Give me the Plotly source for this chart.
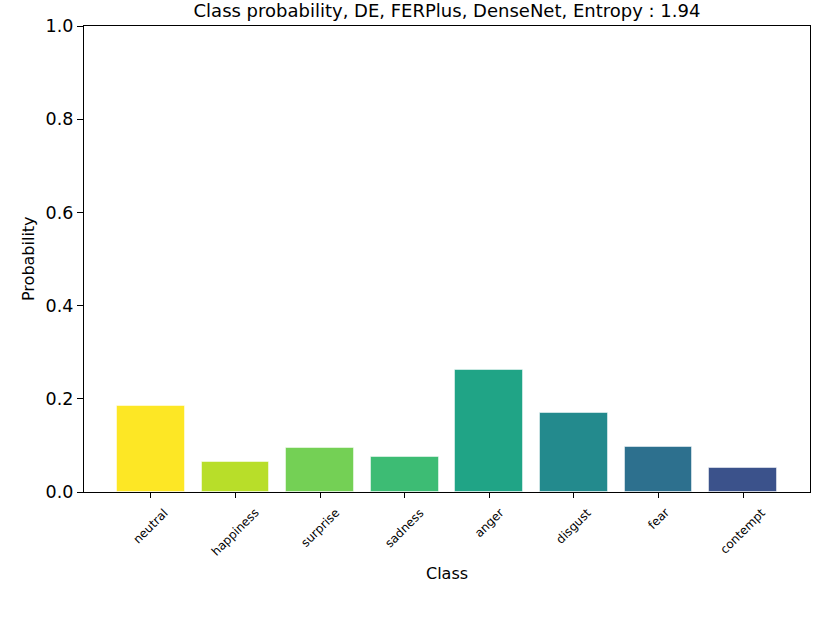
import plotly.graph_objects as go

categories = ["neutral", "happiness", "surprise", "sadness", "anger", "disgust", "fear", "contempt"]
probabilities = [0.1845, 0.065, 0.0937, 0.0744, 0.2618, 0.1695, 0.0966, 0.0515]
bar_colors = ["#fde725", "#b8de29", "#74d055", "#3dbc74", "#20a486", "#238a8d", "#2d708e", "#3b528b"]
y_ticks = [0.0, 0.2, 0.4, 0.6, 0.8, 1.0]
title_text = "Class probability, DE, FERPlus, DenseNet, Entropy : 1.94"

xpos = list(range(len(categories)))

fig = go.Figure()
fig.add_trace(go.Bar(
    x=xpos, y=probabilities, width=0.8,
    marker=dict(color=bar_colors, line=dict(color="rgba(255,255,255,0.5)", width=1)),
    showlegend=False,
))

font = "DejaVu Sans, Arial, sans-serif"
fig.update_layout(
    width=830, height=623,
    margin=dict(l=84, r=20, t=26, b=131, autoexpand=False),
    paper_bgcolor="white", plot_bgcolor="white",
    font=dict(family=font, color="black"),
    title=dict(text=title_text, x=0.5, xref="paper", xanchor="center",
               y=1, yref="paper", yanchor="bottom", pad=dict(b=9), automargin=False,
               font=dict(size=18, family=font, color="black")),
    bargap=0,
)
fig.update_xaxes(
    range=[-0.79, 7.79], tickmode="array", tickvals=xpos, showticklabels=False,
    ticks="outside", ticklen=5,
    tickcolor="black", showline=True, linecolor="black", linewidth=1.2, mirror=True,
    showgrid=False, zeroline=False, automargin=False,
)
fig.update_yaxes(
    range=[0, 1.0], tickmode="array", tickvals=y_ticks,
    ticktext=[f"{v:.1f}" for v in y_ticks],
    tickfont=dict(size=17.5, family=font), ticks="outside", ticklen=6,
    tickcolor="black", showline=True, linecolor="black", linewidth=1.2, mirror=True,
    showgrid=False, zeroline=False, automargin=False,
)
# rotated category labels centred on their ticks (matplotlib style)
for i, name in zip(xpos, categories):
    fig.add_annotation(text=name, x=i, xref="x", y=0, yref="paper", yshift=-11,
                       textangle=-45, showarrow=False, xanchor="center", yanchor="top",
                       font=dict(size=12, family=font))
fig.add_annotation(text="Class", x=0.5, xref="paper", y=-(573 - 492) / 466, yref="paper",
                   showarrow=False, xanchor="center", yanchor="middle",
                   font=dict(size=16, family=font))
fig.add_annotation(text="Probability", x=-(84 - 28) / 726, xref="paper", y=0.5, yref="paper",
                   textangle=-90, showarrow=False, xanchor="center", yanchor="middle",
                   font=dict(size=16, family=font))

fig.write_html("out.html", config={"displayModeBar": False},
               post_script="document.body.style.margin='0';document.body.style.overflow='hidden';")
